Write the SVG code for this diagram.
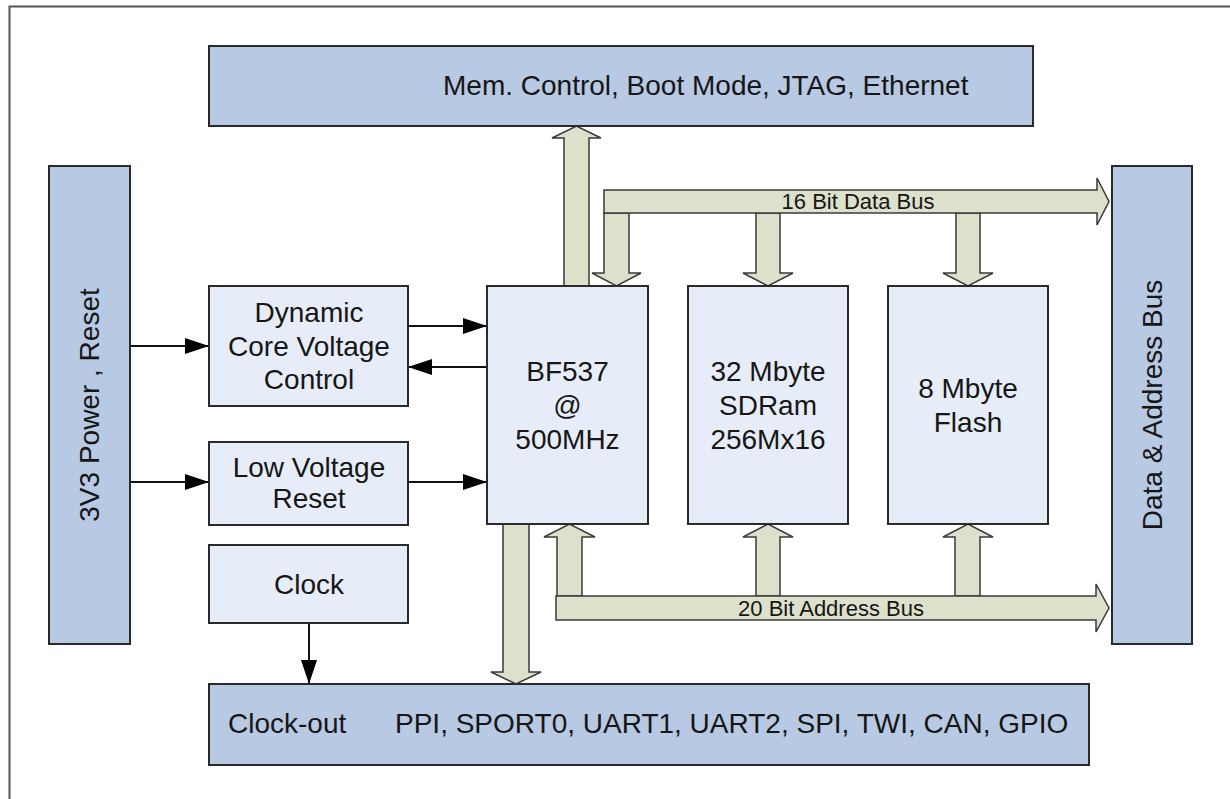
<svg xmlns="http://www.w3.org/2000/svg" width="1230" height="799" viewBox="0 0 1230 799">
<style>
  text { font-family: "Liberation Sans", Arial, sans-serif; fill: #161616; }
  .t { font-size: 28px; text-anchor: middle; }
  .tl { font-size: 28px; }
  .bt { font-size: 22px; text-anchor: middle; }
  .bar { fill: #b8c9e3; stroke: #2a2a2a; stroke-width: 2; }
  .box { fill: #e6edf8; stroke: #2a2a2a; stroke-width: 2; }
  .bus { fill: #dde1cb; stroke: #3a3a3a; stroke-width: 1.5; stroke-linejoin: miter; }
  .wire { stroke: #111; stroke-width: 2; fill: none; marker-end: url(#ah); }
</style>
<defs>
  <marker id="ah" markerUnits="userSpaceOnUse" markerWidth="26" markerHeight="18" refX="24" refY="8" orient="auto">
    <path d="M0,0 L24,8 L0,16 Z" fill="#000"/>
  </marker>
</defs>
<rect width="1230" height="799" fill="#ffffff"/>
<path d="M9.5,800 V6.5 H1231" fill="none" stroke="#555" stroke-width="2"/>

<g id="connectors">
  <!-- thin arrows -->
  <line class="wire" x1="130" y1="346" x2="209" y2="346"/>
  <line class="wire" x1="130" y1="482" x2="209" y2="482"/>
  <line class="wire" x1="408" y1="326" x2="487" y2="326"/>
  <line class="wire" x1="487" y1="367" x2="408" y2="367"/>
  <line class="wire" x1="408" y1="482" x2="487" y2="482"/>
  <line class="wire" x1="309" y1="623" x2="309" y2="684"/>

  <!-- BF537 up to top bar -->
  <polygon class="bus" points="564,286 564,138 552,138 576.5,126 601,138 589,138 589,286"/>
  <!-- BF537 down to bottom bar -->
  <polygon class="bus" points="503,524 503,672 491,672 516,684 541,672 529,672 529,524"/>

  <!-- data bus drops -->
  <polygon class="bus" points="604,213 604,273 592,273 616.5,286 641,273 629,273 629,213"/>
  <polygon class="bus" points="756,213 756,273 743,273 768,286 793,273 780,273 780,213"/>
  <polygon class="bus" points="956,213 956,273 943,273 968,286 993,273 980,273 980,213"/>
  <!-- 16 bit data bus -->
  <polygon class="bus" points="604,190 1097,190 1097,178 1109,201.5 1097,225 1097,213 604,213"/>
  <text class="bt" x="858" y="209">16 Bit Data Bus</text>

  <!-- address bus risers -->
  <polygon class="bus" points="557,596 557,537 544,537 569.5,524 595,537 582,537 582,596"/>
  <polygon class="bus" points="756,596 756,537 743,537 768,524 793,537 780,537 780,596"/>
  <polygon class="bus" points="955,596 955,537 943,537 968,524 993,537 980,537 980,596"/>
  <!-- 20 bit address bus -->
  <polygon class="bus" points="556,596 1096,596 1096,584 1109,608 1096,632 1096,620 556,620"/>
  <text class="bt" x="831" y="616">20 Bit Address Bus</text>
</g>

<g id="top-bar">
  <rect class="bar" x="209" y="46" width="824" height="80"/>
  <text class="tl" x="443" y="95">Mem. Control, Boot Mode, JTAG, Ethernet</text>
</g>

<g id="power-bar">
  <rect class="bar" x="49" y="166" width="81" height="478"/>
  <text class="t" transform="translate(99,405) rotate(-90)">3V3 Power , Reset</text>
</g>

<g id="data-address-bar">
  <rect class="bar" x="1112" y="166" width="80" height="478"/>
  <text class="t" transform="translate(1162,405) rotate(-90)">Data &amp; Address Bus</text>
</g>

<g id="dcvc">
  <rect class="box" x="209" y="286" width="199" height="120"/>
  <text class="t" x="309" y="322">Dynamic</text>
  <text class="t" x="309" y="356">Core Voltage</text>
  <text class="t" x="309" y="389">Control</text>
</g>

<g id="lvr">
  <rect class="box" x="209" y="442" width="199" height="83"/>
  <text class="t" x="309" y="477">Low Voltage</text>
  <text class="t" x="309" y="508">Reset</text>
</g>

<g id="clock">
  <rect class="box" x="209" y="545" width="199" height="78"/>
  <text class="t" x="309" y="594">Clock</text>
</g>

<g id="bf537">
  <rect class="box" x="487" y="286" width="161" height="238"/>
  <text class="t" x="567.5" y="381">BF537</text>
  <text class="t" x="567.5" y="415">@</text>
  <text class="t" x="567.5" y="449">500MHz</text>
</g>

<g id="sdram">
  <rect class="box" x="688" y="286" width="160" height="238"/>
  <text class="t" x="768" y="381">32 Mbyte</text>
  <text class="t" x="768" y="415">SDRam</text>
  <text class="t" x="768" y="449">256Mx16</text>
</g>

<g id="flash">
  <rect class="box" x="888" y="286" width="160" height="238"/>
  <text class="t" x="968" y="398">8 Mbyte</text>
  <text class="t" x="968" y="432">Flash</text>
</g>

<g id="io-bar">
  <rect class="bar" x="209" y="684" width="880" height="81"/>
  <text class="tl" x="228" y="733">Clock-out</text>
  <text class="tl" x="395" y="733">PPI, SPORT0, UART1, UART2, SPI, TWI, CAN, GPIO</text>
</g>
</svg>
